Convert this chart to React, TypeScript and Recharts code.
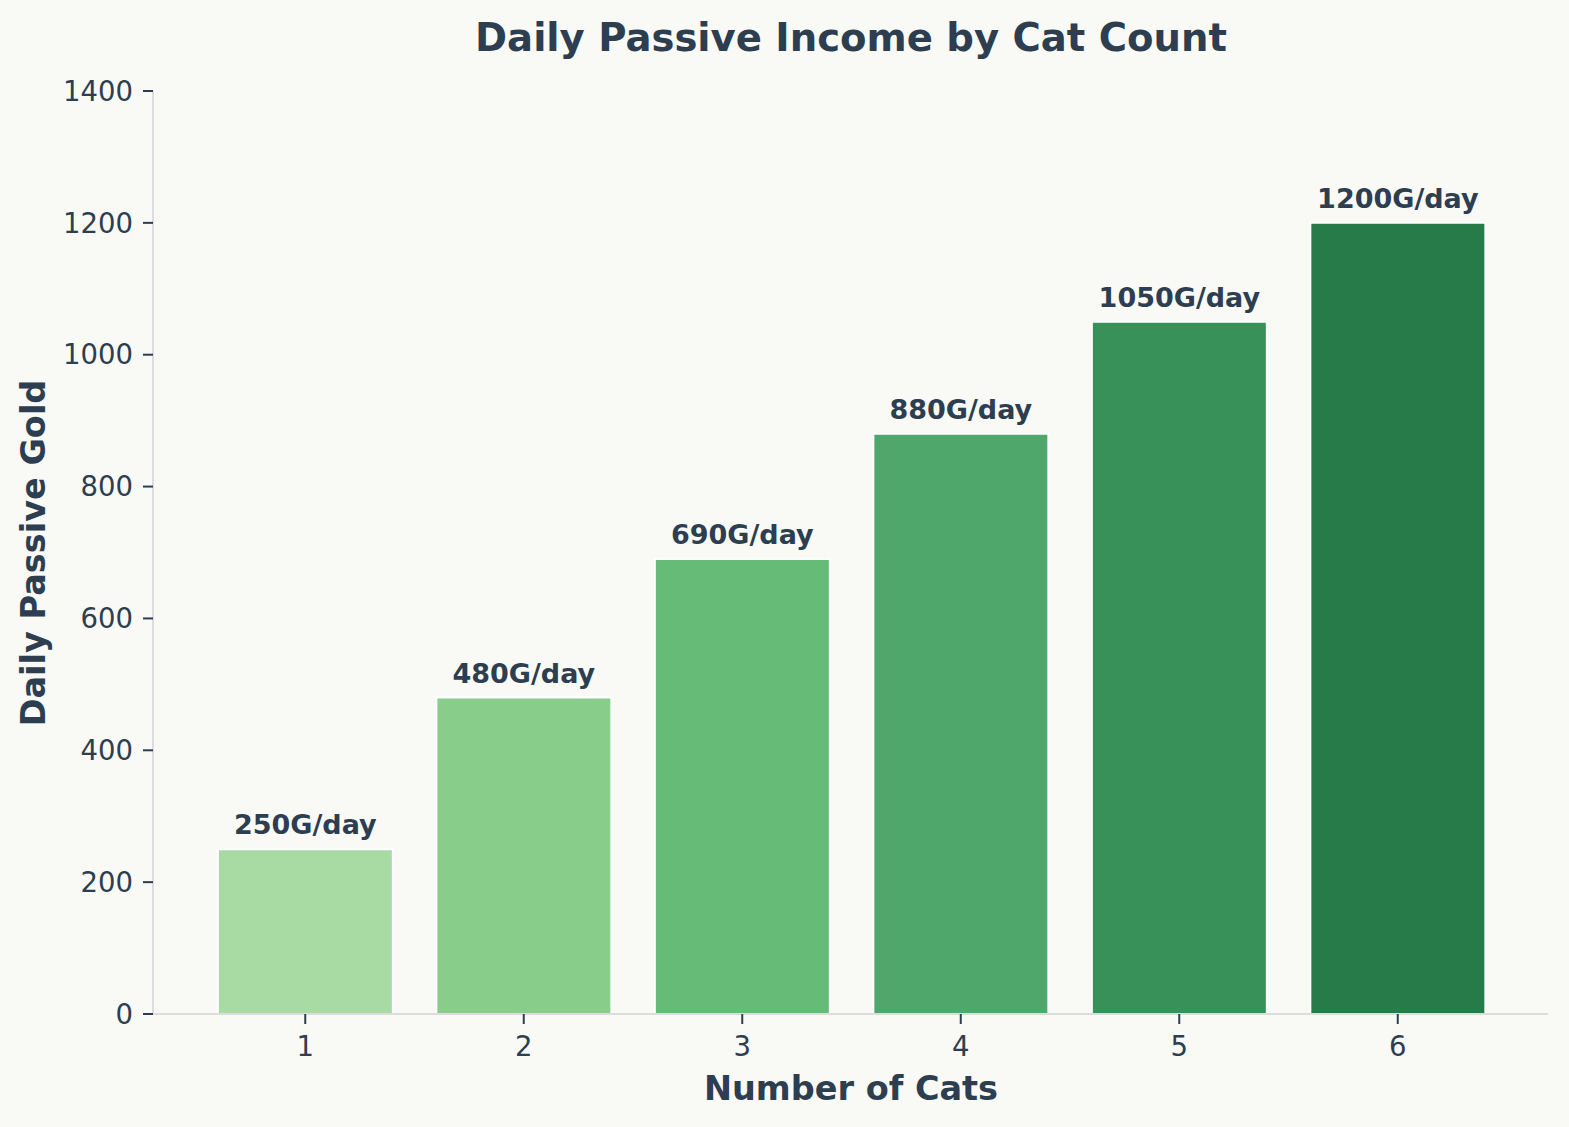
import { Bar, BarChart, Cell, LabelList, XAxis, YAxis } from 'recharts'

const catCounts = ['1', '2', '3', '4', '5', '6']
const dailyGold = [250, 480, 690, 880, 1050, 1200]
const barColors = ['#a7dba3', '#88cd89', '#66bc77', '#4fa76b', '#389159', '#267b49']
const yTicks = [0, 200, 400, 600, 800, 1000, 1200, 1400]

const ink = '#2c3e50'
const bg = '#f9f9f6'
const font = '"DejaVu Sans", sans-serif'

const data = catCounts.map((c, i) => ({ cats: c, gold: dailyGold[i] }))

const tickStyle = { fontSize: 27.5, fill: ink, fontFamily: font }

export default function App() {
  return (
    <div style={{ position: 'absolute', left: 0, top: 0, width: 1569, height: 1127, background: bg }}>
      <BarChart
        width={1569}
        height={1127}
        data={data}
        margin={{ top: 91, right: 21, bottom: 53, left: 53 }}
        barCategoryGap="10%"
      >
        <XAxis
          dataKey="cats"
          type="category"
          padding={{ left: 43, right: 41 }}
          height={60}
          tick={tickStyle}
          tickSize={10}
          tickMargin={12}
          tickLine={{ stroke: ink, strokeWidth: 2 }}
          axisLine={{ stroke: '#dddddd', strokeWidth: 2 }}
        />
        <YAxis
          type="number"
          domain={[0, 1400]}
          ticks={yTicks}
          width={100}
          tick={tickStyle}
          tickSize={10}
          tickMargin={10}
          tickLine={{ stroke: ink, strokeWidth: 2 }}
          axisLine={{ stroke: '#dddddd', strokeWidth: 2 }}
        />
        <Bar dataKey="gold" stroke="#ffffff" strokeWidth={2} isAnimationActive={false}>
          {data.map((d, i) => (
            <Cell key={d.cats} fill={barColors[i]} />
          ))}
          <LabelList
            dataKey="gold"
            position="top"
            offset={15}
            formatter={(v: any) => `${v}G/day`}
            style={{ fontSize: 27, fontWeight: 'bold', fill: ink, fontFamily: font }}
          />
        </Bar>
      </BarChart>
      <svg
        width={1569}
        height={1127}
        style={{ position: 'absolute', left: 0, top: 0, pointerEvents: 'none' }}
      >
        <text x={851} y={51} textAnchor="middle" fontSize={38.6} fontWeight="bold" fill={ink} fontFamily={font}>
          Daily Passive Income by Cat Count
        </text>
        <text x={851} y={1100} textAnchor="middle" fontSize={33.5} fontWeight="bold" fill={ink} fontFamily={font}>
          Number of Cats
        </text>
        <text
          x={45}
          y={553}
          textAnchor="middle"
          fontSize={33.5}
          fontWeight="bold"
          fill={ink}
          fontFamily={font}
          transform="rotate(-90 45 553)"
        >
          Daily Passive Gold
        </text>
      </svg>
    </div>
  )
}
